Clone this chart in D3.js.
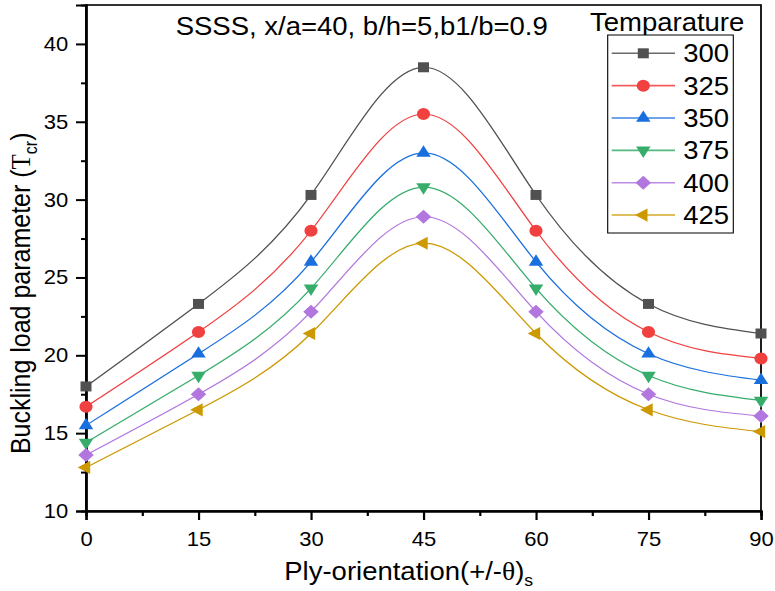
<!DOCTYPE html>
<html>
<head>
<meta charset="utf-8">
<script src="https://cdn.jsdelivr.net/npm/d3@7"></script>
<style>
    body { margin: 0; background: #fff; }
    text { font-family: "Liberation Sans", Arial, sans-serif; fill: #000; }
</style>
</head>
<body>
<svg id="chart" width="775" height="591"></svg>
<script>
    // data
    var angles = [0, 15, 30, 45, 60, 75, 90];
    var temps = ["300", "325", "350", "375", "400", "425"];
    var t300 = [18.0, 23.3, 30.3, 38.5, 30.3, 23.3, 21.4];
    var t325 = [16.7, 21.5, 28.0, 35.5, 28.0, 21.5, 19.8];
    var t350 = [15.5, 20.1, 26.0, 33.0, 26.0, 20.1, 18.4];
    var t375 = [14.4, 18.7, 24.3, 30.8, 24.3, 18.7, 17.1];
    var t400 = [13.6, 17.5, 22.8, 28.9, 22.8, 17.5, 16.1];
    var t425 = [12.8, 16.5, 21.4, 27.2, 21.4, 16.5, 15.1];
    var yTicks = [10, 15, 20, 25, 30, 35, 40];
    var yMinor = [12.5, 17.5, 22.5, 27.5, 32.5, 37.5];
    var xTicks = [0, 15, 30, 45, 60, 75, 90];
    var xMinor = [7.5, 22.5, 37.5, 52.5, 67.5, 82.5];

    var series = [t300, t325, t350, t375, t400, t425];
    var colors = ["#515151", "#F14040", "#1A6FDF", "#37AD6B", "#B177DE", "#CC9900"];
    var markers = [
        { type: d3.symbolSquare, size: 100, rot: 0 },
        { type: d3.symbolCircle, size: 113, rot: 0 },
        { type: d3.symbolTriangle, size: 75, rot: 0 },
        { type: d3.symbolTriangle, size: 75, rot: 180 },
        { type: d3.symbolSquare, size: 100, rot: 45 },
        { type: d3.symbolTriangle, size: 75, rot: -90 }
    ];

    // the original picture is stretched a bit sideways, so draw in a narrower box
    var sx = 1.1;
    var W = 775 / sx, H = 591;
    var svg = d3.select("#chart")
        .attr("viewBox", "0 0 " + W + " " + H)
        .attr("preserveAspectRatio", "none");

    var plotLeft = 86 / sx, plotRight = 761 / sx, plotTop = 5, plotBottom = 511;

    var x = d3.scaleLinear().domain([0, 90]).range([plotLeft, plotRight]);
    var y = d3.scaleLinear().domain([10, 42.5]).range([plotBottom, plotTop]);

    // frame
    svg.append("rect")
        .attr("x", plotLeft).attr("y", plotTop)
        .attr("width", plotRight - plotLeft).attr("height", plotBottom - plotTop)
        .attr("fill", "none").attr("stroke", "#000").attr("stroke-width", 1.6);

    // axes
    var yAxis = svg.append("g")
        .attr("transform", "translate(" + plotLeft + ",0)")
        .call(d3.axisLeft(y).tickValues(yTicks).tickSize(10 / sx).tickPadding(7));
    var yAxisMinor = svg.append("g")
        .attr("transform", "translate(" + plotLeft + ",0)")
        .call(d3.axisLeft(y).tickValues(yMinor).tickSize(5 / sx).tickFormat(""));
    var xAxis = svg.append("g")
        .attr("transform", "translate(0," + plotBottom + ")")
        .call(d3.axisBottom(x).tickValues(xTicks).tickSize(9).tickPadding(11.5));
    var xAxisMinor = svg.append("g")
        .attr("transform", "translate(0," + plotBottom + ")")
        .call(d3.axisBottom(x).tickValues(xMinor).tickSize(5).tickFormat(""));

    [yAxis, yAxisMinor, xAxis, xAxisMinor].forEach(function (g) {
        g.attr("font-family", null).attr("font-size", null);
        g.selectAll("path, line").attr("stroke", "#000").attr("stroke-width", 2);
        g.selectAll("text").attr("font-size", 20);
    });

    // curves + markers
    var line = d3.line()
        .x(function (d, i) { return x(angles[i]); })
        .y(function (d) { return y(d); })
        .curve(d3.curveNatural);

    series.forEach(function (vals, s) {
        svg.append("path")
            .attr("d", line(vals))
            .attr("fill", "none")
            .attr("stroke", colors[s])
            .attr("stroke-width", 1.2);
        var sym = d3.symbol().type(markers[s].type).size(markers[s].size);
        svg.selectAll(".m" + s)
            .data(vals)
            .enter().append("path")
            .attr("class", "m" + s)
            .attr("d", sym)
            .attr("fill", colors[s])
            .attr("transform", function (d, i) {
                return "translate(" + x(angles[i]) + "," + y(d) + ") rotate(" + markers[s].rot + ")";
            });
    });

    // title
    svg.append("text")
        .attr("x", 175.7 / sx).attr("y", 35)
        .attr("font-size", 25)
        .text("SSSS, x/a=40, b/h=5,b1/b=0.9");

    // legend
    svg.append("text")
        .attr("x", 590 / sx).attr("y", 31)
        .attr("font-size", 25)
        .text("Temparature");
    svg.append("rect")
        .attr("x", 607.7 / sx).attr("y", 35)
        .attr("width", (733.3 - 607.7) / sx).attr("height", 198)
        .attr("fill", "#fff").attr("stroke", "#000").attr("stroke-width", 1);

    temps.forEach(function (t, s) {
        var ly = 53.3 + s * 32.35;
        svg.append("line")
            .attr("x1", 611.7 / sx).attr("x2", 675 / sx)
            .attr("y1", ly).attr("y2", ly)
            .attr("stroke", colors[s]).attr("stroke-width", 1.6)
            .attr("stroke-opacity", 0.85);
        svg.append("path")
            .attr("d", d3.symbol().type(markers[s].type).size(markers[s].size))
            .attr("fill", colors[s])
            .attr("transform", "translate(" + (643.3 / sx) + "," + ly + ") rotate(" + markers[s].rot + ")");
        svg.append("text")
            .attr("x", 683.3 / sx).attr("y", ly)
            .attr("dy", "0.36em")
            .attr("font-size", 25)
            .text(t);
    });

    // axis titles
    var xt = svg.append("text")
        .attr("x", 408.7 / sx).attr("y", 580)
        .attr("text-anchor", "middle")
        .attr("font-size", 25);
    xt.append("tspan").text("Ply-orientation(+/-");
    xt.append("tspan").attr("font-family", "Liberation Serif, serif").text("\u03b8");
    xt.append("tspan").text(")");
    xt.append("tspan").attr("font-size", 16).attr("dy", 6).text("s");

    var yt = svg.append("text")
        .attr("transform", "translate(" + (30.3 / sx) + ",293.3) rotate(-90)")
        .attr("text-anchor", "middle")
        .attr("font-size", 25);
    yt.append("tspan").text("Buckling load parameter (");
    yt.append("tspan").attr("font-family", "Liberation Serif, serif").text("T");
    yt.append("tspan").attr("font-size", 16).attr("dy", 6).text("cr");
    yt.append("tspan").attr("dy", -6).text(")");
</script>
</body>
</html>
